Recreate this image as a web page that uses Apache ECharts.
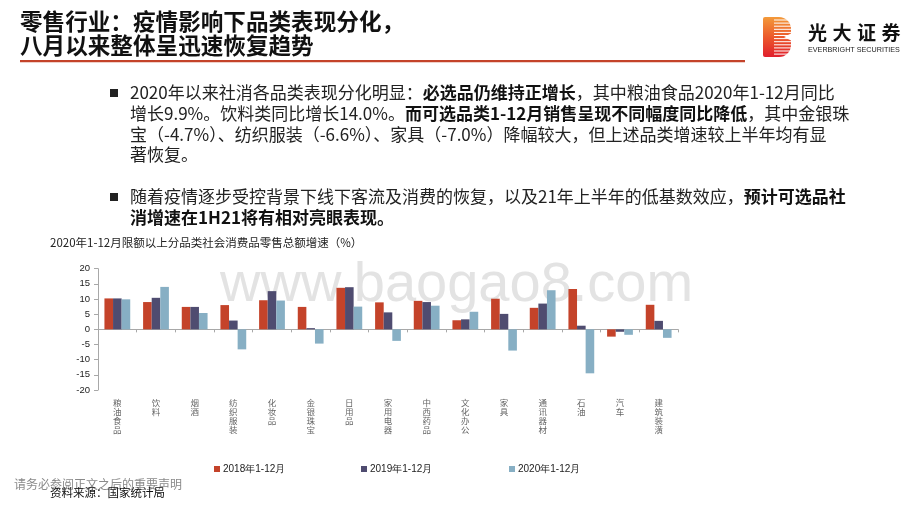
<!DOCTYPE html>
<html><head><meta charset="utf-8">
<script src="https://cdn.jsdelivr.net/npm/echarts@6/dist/echarts.min.js"></script>
<style>html,body{margin:0;padding:0;background:#fff}#c{width:920px;height:518px}</style>
</head><body><div id="c"></div>
<script>
const categories = ['粮油食品','饮料','烟酒','纺织服装','化妆品','金银珠宝','日用品','家用电器','中西药品','文化办公','家具','通讯器材','石油','汽车','建筑装潢'];
const seriesNames = ['2018年1-12月','2019年1-12月','2020年1-12月'];
const values2018 = [10.2, 9.0, 7.4, 8.0, 9.6, 7.4, 13.7, 8.9, 9.4, 3.0, 10.1, 7.1, 13.3, -2.4, 8.1];
const values2019 = [10.2, 10.4, 7.4, 2.9, 12.6, 0.4, 13.9, 5.6, 9.0, 3.3, 5.1, 8.5, 1.2, -0.8, 2.8];
const values2020 = [9.9, 14.0, 5.4, -6.6, 9.5, -4.7, 7.5, -3.8, 7.8, 5.8, -7.0, 12.9, -14.5, -1.8, -2.8];
const yTicks = [-20, -15, -10, -5, 0, 5, 10, 15, 20];

const titleLines = ['零售行业：疫情影响下品类表现分化，', '八月以来整体呈迅速恢复趋势'];
const para1 = [
  '2020年以来社消各品类表现分化明显：{b|必选品仍维持正增长}，其中粮油食品2020年1-12月同比',
  '增长9.9%。饮料类同比增长14.0%。{b|而可选品类1-12月销售呈现不同幅度同比降低}，其中金银珠',
  '宝（-4.7%）、纺织服装（-6.6%）、家具（-7.0%）降幅较大，但上述品类增速较上半年均有显',
  '著恢复。'
];
const para2 = [
  '随着疫情逐步受控背景下线下客流及消费的恢复，以及21年上半年的低基数效应，{b|预计可选品社}',
  '{b|消增速在1H21将有相对亮眼表现。}'
];
const chartTitle = '2020年1-12月限额以上分品类社会消费品零售总额增速（%）';
const logoChars = ['光','大','证','券'];
const logoEn = 'EVERBRIGHT SECURITIES';
const footerNote = '请务必参阅正文之后的重要声明';
const sourceNote = '资料来源：国家统计局';
const watermark = 'www.baogao8.com';

const colors = ['#c4432a', '#4f4c70', '#87afc4'];
const CJK = '"Noto Sans CJK SC", sans-serif';
const LAT = '"Liberation Sans", Arial, sans-serif';

const chart = echarts.init(document.getElementById('c'), null, {renderer: 'canvas'});

const graphics = [];
graphics.push({type:'text', z: 0, style:{x:220, y:258, text: watermark, font: '56px ' + LAT, fill:'#e3e3e3', verticalAlign:'alphabetic'}});
titleLines.forEach((t, i) => {
  graphics.push({type:'text', z: 10, style:{x:20, y: 21 + i*24.5, text:t, font:'bold 22.6px ' + CJK, fill:'#111', verticalAlign:'middle'}});
});
graphics.push({type:'rect', z:10, shape:{x:20, y:60, width:725, height:2.2}, style:{fill:'#c4432a'}});
graphics.push({type:'rect', z:10, shape:{x:763, y:17, width:28, height:40, r:[2,12,12,2]},
  style:{fill: new echarts.graphic.LinearGradient(0,0,0,1,[{offset:0,color:'#f39a3a'},{offset:0.5,color:'#ec5a2c'},{offset:1,color:'#e01f2d'}])}});
for (let k = 0; k < 12; k++) {
  graphics.push({type:'rect', z:11, shape:{x:774, y:19.5 + k*3.1, width:18, height:1}, style:{fill:'#fff'}});
}
graphics.push({type:'polygon', z:11, shape:{points:[[792,33],[784,37],[792,41]]}, style:{fill:'#fff'}});
logoChars.forEach((c, i) => {
  graphics.push({type:'text', z:10, style:{x: 808 + i*24.5, y:33, text:c, font:'bold 19px ' + CJK, fill:'#111', verticalAlign:'middle'}});
});
graphics.push({type:'text', z:10, style:{x:808, y:50, text: logoEn, font:'7.2px ' + LAT, fill:'#222', verticalAlign:'middle'}});
const richB = {b:{fontWeight:'bold', fontSize:17, fontFamily: CJK, fill:'#111'}};
para1.forEach((t, i) => {
  graphics.push({type:'text', z:10, style:{x:130, y: 93 + i*20.6, text:t, font:'17px ' + CJK, fill:'#222', verticalAlign:'middle', rich: richB}});
});
para2.forEach((t, i) => {
  graphics.push({type:'text', z:10, style:{x:130, y: 197 + i*20.6, text:t, font:'17px ' + CJK, fill:'#222', verticalAlign:'middle', rich: richB}});
});
[93, 197].forEach(y => {
  graphics.push({type:'rect', z:10, shape:{x:110, y:y-4, width:8, height:8}, style:{fill:'#222'}});
});
graphics.push({type:'text', z:10, style:{x:50, y:243, text: chartTitle, font:'11.5px ' + CJK, fill:'#222', verticalAlign:'middle'}});
graphics.push({type:'text', z:10, style:{x:14, y:484, text: footerNote, font:'12px ' + CJK, fill:'#8a8a8a', verticalAlign:'middle'}});
graphics.push({type:'text', z:11, style:{x:50, y:493, text: sourceNote, font:'11.5px ' + CJK, fill:'#111', verticalAlign:'middle'}});

const legendLefts = [209, 356, 504];
const legends = seriesNames.map((n, i) => ({
  data:[n], left: legendLefts[i], top: 459, icon:'rect', itemWidth:6, itemHeight:6, itemGap:2,
  textStyle:{fontSize:10, fontFamily: LAT, color:'#222', padding:[0,0,0,-2]}
}));

const option = {
  animation: false,
  backgroundColor: '#fff',
  color: colors,
  graphic: graphics,
  legend: legends,
  grid: {left: 98, right: 242, top: 268.7, bottom: 128},
  xAxis: {
    type: 'category', data: categories,
    axisLine: {onZero: true, lineStyle: {color: '#a8a8a8', width: 1}},
    axisTick: {show: true, length: 3, lineStyle: {color: '#a8a8a8'}},
    axisLabel: {
      margin: 8, interval: 0, color: '#666', fontSize: 8.5, lineHeight: 9, fontFamily: CJK,
      formatter: v => v.split('').join('\n')
    }
  },
  yAxis: {
    type: 'value', min: -20, max: 20, interval: 5,
    axisLine: {show: true, lineStyle: {color: '#a8a8a8'}},
    axisTick: {show: true, length: 4, lineStyle: {color: '#a8a8a8'}},
    splitLine: {show: false},
    axisLabel: {color: '#222', fontSize: 9.5, fontFamily: LAT, margin: 8,
      formatter: v => yTicks.includes(v) ? String(v) : ''}
  },
  series: [values2018, values2019, values2020].map((d, i) => ({
    name: seriesNames[i], type: 'bar', data: d, barWidth: 8.6, barGap: '0%'
  }))
};
chart.setOption(option);
</script>
</body></html>
